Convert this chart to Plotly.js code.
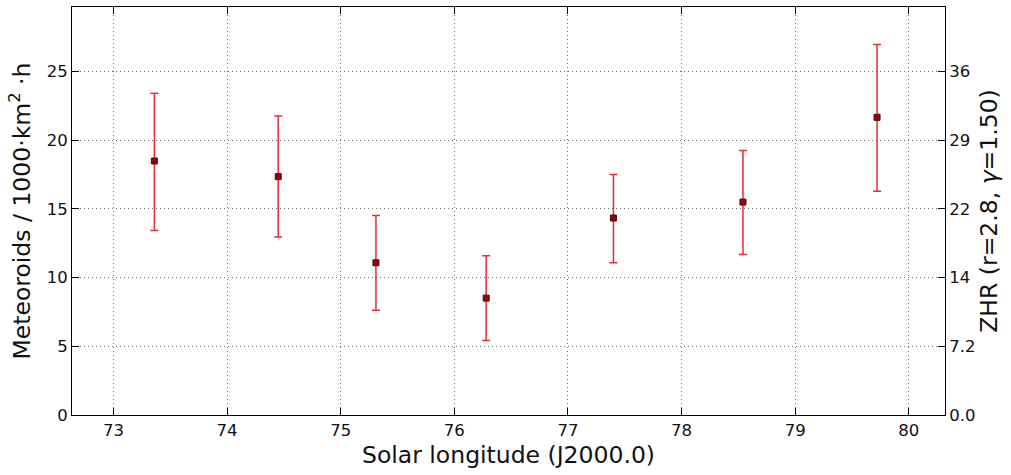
<!DOCTYPE html>
<html>
<head>
<meta charset="utf-8">
<script src="https://cdn.plot.ly/plotly-3.0.1.min.js"></script>
<style>html,body{margin:0;padding:0;background:#fff;}#chart{width:1011px;height:475px;}</style>
</head>
<body>
<div id="chart"></div>
<script>
// Data
const solarLongitude = [73.36, 74.45, 75.31, 76.28, 77.40, 78.54, 79.72];
const meteoroidRate = [18.49, 17.35, 11.08, 8.51, 14.34, 15.50, 21.67];
const errPlus = [4.93, 4.42, 3.45, 3.08, 3.17, 3.76, 5.30];
const errMinus = [5.06, 4.40, 3.45, 3.09, 3.26, 3.82, 5.39];

const xTicks = [73, 74, 75, 76, 77, 78, 79, 80];
const yTicks = [0, 5, 10, 15, 20, 25];
const zhrTickLabels = ['0.0', '7.2', '14', '22', '29', '36'];

const xRange = [72.635, 80.318];
const yRange = [0, 29.7];

const FONT = 'DejaVu Sans, sans-serif';

const traces = [
  {
    x: solarLongitude,
    y: meteoroidRate,
    type: 'scatter',
    mode: 'markers',
    marker: {symbol: 'square', size: 6, color: '#a00000', line: {color: '#3a1010', width: 1}},
    error_y: {type: 'data', symmetric: false, array: errPlus, arrayminus: errMinus,
              color: '#e0303a', thickness: 1.5, width: 4},
    showlegend: false,
    hoverinfo: 'x+y'
  },
  {
    x: [], y: [], yaxis: 'y2', type: 'scatter', mode: 'markers', showlegend: false, hoverinfo: 'skip'
  }
];

const layout = {
  width: 1011,
  height: 475,
  margin: {l: 72, r: 66, t: 7, b: 60},
  paper_bgcolor: '#ffffff',
  plot_bgcolor: '#ffffff',
  font: {family: FONT, color: '#000', size: 16.5},
  xaxis: {
    range: xRange,
    tickvals: xTicks,
    ticks: 'inside', ticklen: 7, tickcolor: '#000',
    showline: true, linecolor: '#000', linewidth: 1, mirror: 'ticks',
    showgrid: true, gridcolor: '#707070', griddash: '1px,3px', gridwidth: 1,
    zeroline: false,
    tickfont: {family: FONT, size: 16.5, color: '#111'},
    title: {text: 'Solar longitude (J2000.0)', font: {family: FONT, size: 23.5, color: '#111'}, standoff: 7}
  },
  yaxis: {
    range: yRange,
    tickvals: yTicks,
    ticks: 'inside', ticklen: 7, tickcolor: '#000',
    showline: true, linecolor: '#000', linewidth: 1,
    showgrid: true, gridcolor: '#707070', griddash: '1px,3px', gridwidth: 1,
    zeroline: false,
    tickfont: {family: FONT, size: 16.5, color: '#111'},
    title: {text: 'Meteoroids / 1000·km<sup>2</sup> ·h', font: {family: FONT, size: 23.5, color: '#111'}, standoff: 9}
  },
  yaxis2: {
    overlaying: 'y',
    side: 'right',
    range: yRange,
    tickvals: yTicks,
    ticktext: zhrTickLabels,
    ticks: 'inside', ticklen: 7, tickcolor: '#000',
    showline: true, linecolor: '#000', linewidth: 1,
    showgrid: false, zeroline: false,
    tickfont: {family: FONT, size: 16.5, color: '#111'},
    title: {text: 'ZHR (r=2.8, <i>γ</i>=1.50)', font: {family: FONT, size: 23.5, color: '#111'}, standoff: 6}
  }
};

Plotly.newPlot('chart', traces, layout, {displayModeBar: false, staticPlot: true});
</script>
</body>
</html>
